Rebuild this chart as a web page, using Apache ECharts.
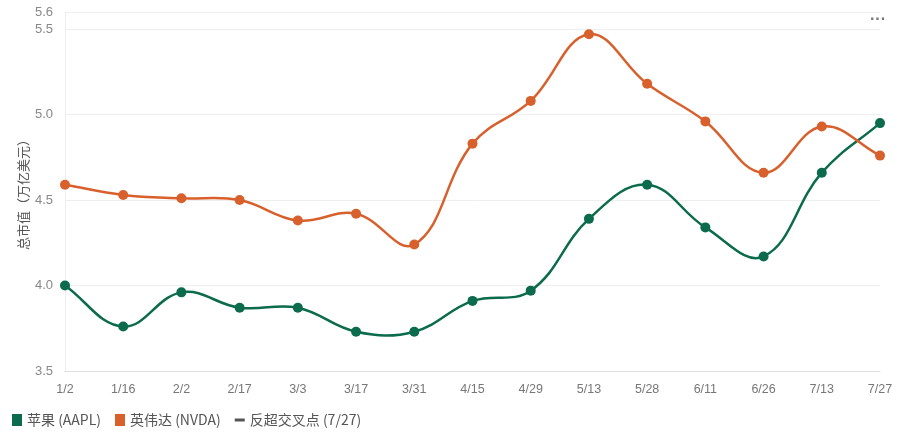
<!DOCTYPE html>
<html>
<head>
<meta charset="utf-8">
<script src="https://cdn.jsdelivr.net/npm/echarts@6/dist/echarts.min.js"></script>
<style>html,body{margin:0;padding:0;background:#fff}#c{width:900px;height:434px}</style>
</head>
<body>
<div id="c"></div>
<script>
var categories = ['1/2','1/16','2/2','2/17','3/3','3/17','3/31','4/15','4/29','5/13','5/28','6/11','6/26','7/13','7/27'];
var aapl = [4.00, 3.76, 3.96, 3.87, 3.87, 3.73, 3.73, 3.91, 3.97, 4.39, 4.59, 4.34, 4.17, 4.66, 4.95];
var nvda = [4.59, 4.53, 4.51, 4.50, 4.38, 4.42, 4.24, 4.83, 5.08, 5.47, 5.18, 4.96, 4.66, 4.93, 4.76];
var seriesNames = ['苹果 (AAPL)', '英伟达 (NVDA)', '反超交叉点 (7/27)'];
var yAxisName = '总市值（万亿美元）';

var GREEN = '#0b6b4c', ORANGE = '#d8602c', GREY = '#555';
var TENSION = 0.4;

// Smooth curve segments (cardinal spline) positioned through the chart's own scales
function curveRenderer(values, color) {
  return function (params, api) {
    var i = params.dataIndex;
    if (i === 0) return null;
    var pts = values.map(function (v, k) { return api.coord([k, v]); });
    function cps(k) {
      var prev = pts[Math.max(k - 1, 0)], cur = pts[k], next = pts[Math.min(k + 1, pts.length - 1)];
      var d01 = Math.hypot(cur[0] - prev[0], cur[1] - prev[1]);
      var d12 = Math.hypot(next[0] - cur[0], next[1] - cur[1]);
      var s01 = (d01 + d12) ? d01 / (d01 + d12) : 0;
      var s12 = (d01 + d12) ? d12 / (d01 + d12) : 0;
      var fa = TENSION * s01, fb = TENSION * s12;
      return {
        prev: [cur[0] - fa * (next[0] - prev[0]), cur[1] - fa * (next[1] - prev[1])],
        next: [cur[0] + fb * (next[0] - prev[0]), cur[1] + fb * (next[1] - prev[1])]
      };
    }
    var a = pts[i - 1], b = pts[i], ca = cps(i - 1), cb = cps(i);
    return {
      type: 'bezierCurve',
      shape: { x1: a[0], y1: a[1], x2: b[0], y2: b[1],
               cpx1: ca.next[0], cpy1: ca.next[1], cpx2: cb.prev[0], cpy2: cb.prev[1] },
      style: { stroke: color, lineWidth: 2.5, fill: null }
    };
  };
}
function toPairs(values) { return values.map(function (v, k) { return [k, v]; }); }

var chart = echarts.init(document.getElementById('c'));
chart.setOption({
  animation: false,
  backgroundColor: '#fff',
  grid: { left: 65, right: 20, top: 12, bottom: 63 },
  legend: {
    left: 7, bottom: 2,
    itemWidth: 10, itemHeight: 12, itemGap: 14,
    textStyle: { color: '#555', fontSize: 14, fontFamily: 'Noto Sans CJK SC, sans-serif' },
    data: [
      { name: seriesNames[0], icon: 'rect' },
      { name: seriesNames[1], icon: 'rect' },
      { name: seriesNames[2], icon: 'path://M0,0 M10,12 M0,4.5 L10,4.5 L10,7.5 L0,7.5 Z' }
    ]
  },
  graphic: [{
    type: 'text', right: 14, top: 12,
    style: { text: '···', fill: '#777', fontSize: 16, fontWeight: 'bold' }
  }],
  xAxis: {
    type: 'category', data: categories, boundaryGap: false,
    axisLine: { lineStyle: { color: '#e0e0e0' } },
    axisTick: { show: false },
    axisLabel: { color: '#777', fontSize: 12.5, margin: 12, interval: 0, fontFamily: 'Liberation Sans, Arial, sans-serif' }
  },
  yAxis: {
    type: 'value', min: 3.5, max: 5.6, interval: 0.5,
    name: yAxisName, nameLocation: 'middle', nameGap: 35, nameMoveOverlap: false,
    nameTextStyle: { color: '#555', fontSize: 13, fontFamily: 'Noto Sans CJK SC, sans-serif' },
    axisLine: { show: true, lineStyle: { color: '#eeeeee' } },
    axisTick: { show: false },
    axisLabel: { color: '#888', fontSize: 13, margin: 12, fontFamily: 'Liberation Sans, Arial, sans-serif',
                 formatter: function (v) { return v.toFixed(1); } },
    splitLine: { lineStyle: { color: '#eeeeee' } }
  },
  series: [
    {
      type: 'custom', name: seriesNames[0], data: toPairs(aapl), z: 1, silent: true,
      encode: { x: 0, y: 1 }, renderItem: curveRenderer(aapl, GREEN), itemStyle: { color: GREEN }
    },
    {
      type: 'custom', name: seriesNames[1], data: toPairs(nvda), z: 1, silent: true,
      encode: { x: 0, y: 1 }, renderItem: curveRenderer(nvda, ORANGE), itemStyle: { color: ORANGE }
    },
    {
      name: seriesNames[0], type: 'line', data: aapl, z: 3,
      symbol: 'circle', symbolSize: 10,
      itemStyle: { color: GREEN },
      lineStyle: { width: 0, opacity: 0 }
    },
    {
      name: seriesNames[1], type: 'line', data: nvda, z: 3,
      symbol: 'circle', symbolSize: 10,
      itemStyle: { color: ORANGE },
      lineStyle: { width: 0, opacity: 0 }
    },
    {
      name: seriesNames[2], type: 'line', data: [], symbol: 'none',
      itemStyle: { color: GREY },
      lineStyle: { width: 3, color: GREY }
    }
  ]
});
</script>
</body>
</html>
